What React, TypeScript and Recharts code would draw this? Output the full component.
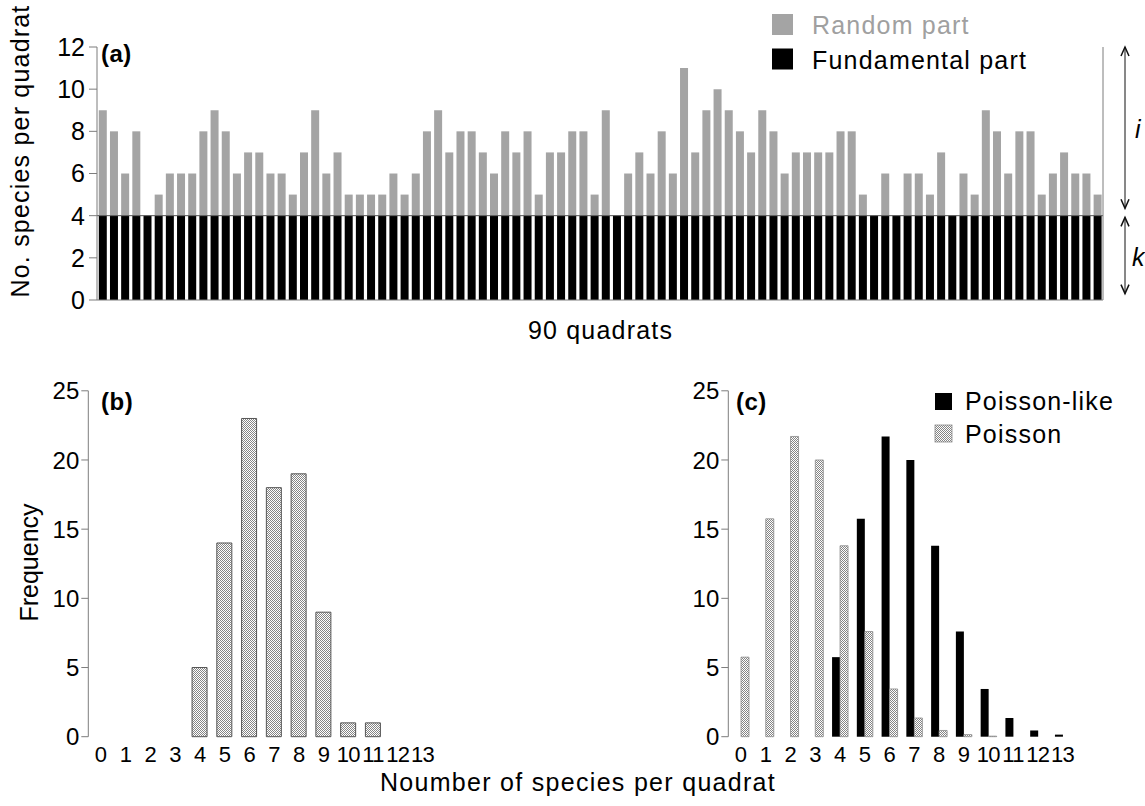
import React from 'react';
import { BarChart, Bar, XAxis, YAxis, ReferenceLine, Label } from 'recharts';

// ---------- data ----------
const QUADRAT_TOTALS = [
  9, 8, 6, 8, 4, 5, 6, 6, 6, 8,
  9, 8, 6, 7, 7, 6, 6, 5, 7, 9,
  6, 7, 5, 5, 5, 5, 6, 5, 6, 8,
  9, 7, 8, 8, 7, 6, 8, 7, 8, 5,
  7, 7, 8, 8, 5, 9, 4, 6, 7, 6,
  8, 6, 11, 7, 9, 10, 9, 8, 7, 9,
  8, 6, 7, 7, 7, 7, 8, 8, 5, 4,
  6, 4, 6, 6, 5, 7, 4, 6, 5, 9,
  8, 6, 8, 8, 5, 6, 7, 6, 6, 5,
];
const FUNDAMENTAL_K = 4;
const SPECIES_TICKS_A = [0, 2, 4, 6, 8, 10, 12];
const LEGEND_A = ['Random part', 'Fundamental part'];

const SPECIES_CATEGORIES = ['0', '1', '2', '3', '4', '5', '6', '7', '8', '9', '10', '11', '12', '13'];
const OBSERVED_FREQ = [0, 0, 0, 0, 5, 14, 23, 18, 19, 9, 1, 1, 0, 0];
const POISSON_LIKE = [0, 0, 0, 0, 5.75, 15.75, 21.7, 20, 13.8, 7.6, 3.45, 1.35, 0.45, 0.15];
const POISSON = [5.75, 15.75, 21.7, 20, 13.8, 7.6, 3.45, 1.35, 0.45, 0.15, 0.04, 0, 0, 0];
const FREQ_TICKS = [0, 5, 10, 15, 20, 25];
const LEGEND_C = ['Poisson-like', 'Poisson'];

// ---------- derived tables ----------
const dataA = QUADRAT_TOTALS.map((t, i) => ({
  q: i + 1,
  fundamental: FUNDAMENTAL_K,
  random: t - FUNDAMENTAL_K,
}));
const dataB = SPECIES_CATEGORIES.map((n, i) => ({ n, freq: OBSERVED_FREQ[i] }));
const dataC = SPECIES_CATEGORIES.map((n, i) => ({ n, like: POISSON_LIKE[i], pois: POISSON[i] }));
const EDGE_TICKS = [...SPECIES_CATEGORIES.map((_, i) => i - 0.5), SPECIES_CATEGORIES.length - 0.5];

const FONT = 'Liberation Sans, Arial, Helvetica, sans-serif';
const AXIS = '#7d7d7d';
const tickStyle = { fontSize: 24, fill: '#000', fontFamily: FONT };
const xTickStyle = { fontSize: 22, fill: '#000', fontFamily: FONT, letterSpacing: -0.6 };

const HatchDef = ({ id }: { id: string }) => (
  <pattern id={id} width="2" height="2" patternUnits="userSpaceOnUse">
    <rect width="2" height="2" fill="#ffffff" />
    <rect width="1" height="1" fill="#858585" />
    <rect x="1" y="1" width="1" height="1" fill="#858585" />
  </pattern>
);

// arrows + i/k annotation drawn on the right-hand axis using its box
const IKMarks = (props: any) => {
  const vb = props.viewBox || {};
  const x = vb.x ?? 0;
  const y = vb.y ?? 0;
  const h = vb.height ?? 0;
  const yOf = (v: number) => y + h * (1 - v / 12);
  const ax = x + 22;
  const head = (tipY: number, dir: number) => (
    <polyline
      points={`${ax - 4},${tipY + dir * 9} ${ax},${tipY} ${ax + 4},${tipY + dir * 9}`}
      fill="none"
      stroke="#111"
      strokeWidth={1.5}
    />
  );
  const a1 = yOf(12);
  const a2 = yOf(4.35);
  const b1 = yOf(3.92);
  const b2 = yOf(0.3);
  return (
    <g>
      <line x1={ax} x2={ax} y1={a1} y2={a2} stroke="#111" strokeWidth={1} />
      {head(a1, 1)}
      {head(a2, -1)}
      <line x1={ax} x2={ax} y1={b1} y2={b2} stroke="#111" strokeWidth={1} />
      {head(b1, 1)}
      {head(b2, -1)}
      <text x={x + 32} y={yOf(8) + 7} fontSize={25} fontStyle="italic" fontFamily={FONT} fill="#000">i</text>
      <text x={x + 29} y={yOf(2) + 8} fontSize={25} fontStyle="italic" fontFamily={FONT} fill="#000">k</text>
    </g>
  );
};

const ChartA = () => (
  <BarChart
    width={1145}
    height={345}
    data={dataA}
    margin={{ top: 47, right: 0, bottom: 0, left: 0 }}
    barCategoryGap="16%"
  >
    <XAxis dataKey="q" tick={false} tickLine={false} axisLine={{ stroke: AXIS }} height={45} />
    <YAxis
      yAxisId="l"
      width={97}
      domain={[0, 12]}
      ticks={SPECIES_TICKS_A}
      interval={0}
      tickSize={8}
      tickMargin={4}
      tick={{ ...tickStyle, fontSize: 25 }}
      axisLine={{ stroke: AXIS }}
      tickLine={{ stroke: AXIS }}
    />
    <YAxis
      yAxisId="r"
      orientation="right"
      width={42}
      domain={[0, 12]}
      ticks={SPECIES_TICKS_A}
      interval={0}
      tick={false}
      tickSize={8}
      axisLine={{ stroke: AXIS }}
      tickLine={{ stroke: AXIS }}
    >
      <Label content={<IKMarks />} />
    </YAxis>
    <Bar yAxisId="l" dataKey="fundamental" stackId="s" fill="#000000" isAnimationActive={false} />
    <Bar yAxisId="l" dataKey="random" stackId="s" fill="#a4a4a4" isAnimationActive={false} />
    <ReferenceLine yAxisId="l" y={FUNDAMENTAL_K} stroke="#555" strokeWidth={1} />
  </BarChart>
);

const ChartB = () => (
  <BarChart
    width={450}
    height={420}
    data={dataB}
    margin={{ top: 30.8, right: 15, bottom: 0, left: 0 }}
    barCategoryGap="19%"
  >
    <defs>
      <HatchDef id="hatchB" />
    </defs>
    <XAxis
      xAxisId="e"
      type="number"
      domain={[-0.5, 13.5]}
      ticks={EDGE_TICKS}
      interval={0}
      tick={false}
      tickSize={7}
      height={0}
      axisLine={{ stroke: AXIS }}
      tickLine={{ stroke: AXIS }}
    />
    <XAxis
      xAxisId="c"
      dataKey="n"
      interval={0}
      axisLine={false}
      tickLine={false}
      tickSize={7}
      tickMargin={3}
      height={43.3}
      tick={xTickStyle}
    />
    <YAxis
      width={88.3}
      domain={[0, 25]}
      ticks={FREQ_TICKS}
      interval={0}
      tickSize={7}
      tickMargin={2}
      tick={tickStyle}
      axisLine={{ stroke: AXIS }}
      tickLine={{ stroke: AXIS }}
    />
    <Bar xAxisId="c" dataKey="freq" fill="url(#hatchB)" stroke="#555" strokeWidth={1} isAnimationActive={false} />
  </BarChart>
);

const ChartC = () => (
  <BarChart
    width={450}
    height={420}
    data={dataC}
    margin={{ top: 30.8, right: 15, bottom: 0, left: 0 }}
    barCategoryGap="19%"
    barGap={0}
  >
    <defs>
      <HatchDef id="hatchC" />
    </defs>
    <XAxis
      xAxisId="e"
      type="number"
      domain={[-0.5, 13.5]}
      ticks={EDGE_TICKS}
      interval={0}
      tick={false}
      tickSize={7}
      height={0}
      axisLine={{ stroke: AXIS }}
      tickLine={{ stroke: AXIS }}
    />
    <XAxis
      xAxisId="c"
      dataKey="n"
      interval={0}
      axisLine={false}
      tickLine={false}
      tickSize={7}
      tickMargin={3}
      height={43.3}
      tick={xTickStyle}
    />
    <YAxis
      width={88.3}
      domain={[0, 25]}
      ticks={FREQ_TICKS}
      interval={0}
      tickSize={7}
      tickMargin={2}
      tick={tickStyle}
      axisLine={{ stroke: AXIS }}
      tickLine={{ stroke: AXIS }}
    />
    <Bar xAxisId="c" dataKey="like" fill="#000000" isAnimationActive={false} />
    <Bar xAxisId="c" dataKey="pois" fill="url(#hatchC)" stroke="#8a8a8a" strokeWidth={0.8} isAnimationActive={false} />
  </BarChart>
);

const Overlay = () => (
  <svg
    width={1145}
    height={806}
    style={{ position: 'absolute', left: 0, top: 0, pointerEvents: 'none' }}
    fontFamily={FONT}
  >
    <defs>
      <HatchDef id="hatchL" />
    </defs>
    {/* panel letters */}
    <text x={101} y={62} fontSize={24} fontWeight="bold" letterSpacing={0.5}>(a)</text>
    <text x={101} y={410} fontSize={24} fontWeight="bold" letterSpacing={0.5}>(b)</text>
    <text x={736} y={410} fontSize={24} fontWeight="bold" letterSpacing={0.5}>(c)</text>

    {/* legend (a) */}
    <rect x={772} y={14} width={21} height={21} fill="#a4a4a4" />
    <text x={812} y={33.5} fontSize={25} letterSpacing={1.2} fill="#a0a0a0">{LEGEND_A[0]}</text>
    <rect x={772} y={48.5} width={21} height={21} fill="#000" />
    <text x={812} y={69} fontSize={25} letterSpacing={1.2} fill="#000">{LEGEND_A[1]}</text>

    {/* legend (c) */}
    <rect x={935} y={393} width={17} height={17} fill="#000" />
    <text x={965} y={410} fontSize={25} letterSpacing={1.2} fill="#000">{LEGEND_C[0]}</text>
    <rect x={935} y={425} width={17} height={17} fill="url(#hatchL)" stroke="#8a8a8a" strokeWidth={0.8} />
    <text x={965} y={443} fontSize={25} letterSpacing={1.2} fill="#000">{LEGEND_C[1]}</text>

    {/* axis titles */}
    <text transform="translate(20,151) rotate(-90)" textAnchor="middle" dy="0.355em" fontSize={25} letterSpacing={1.2}>
      No. species per quadrat
    </text>
    <text x={600.5} y={339.3} textAnchor="middle" fontSize={25} letterSpacing={1.2}>90 quadrats</text>
    <text transform="translate(29,562.5) rotate(-90)" textAnchor="middle" dy="0.355em" fontSize={25}>
      Frequency
    </text>
    <text x={578} y={791} textAnchor="middle" fontSize={25} letterSpacing={1.3}>Noumber of species per quadrat</text>
  </svg>
);

export default function App() {
  return (
    <div style={{ position: 'absolute', left: 0, top: 0, width: 1145, height: 806, background: '#fff', fontFamily: FONT }}>
      <div style={{ position: 'absolute', left: 0, top: 0 }}>
        <ChartA />
      </div>
      <div style={{ position: 'absolute', left: 0, top: 360 }}>
        <ChartB />
      </div>
      <div style={{ position: 'absolute', left: 640, top: 360 }}>
        <ChartC />
      </div>
      <Overlay />
    </div>
  );
}
